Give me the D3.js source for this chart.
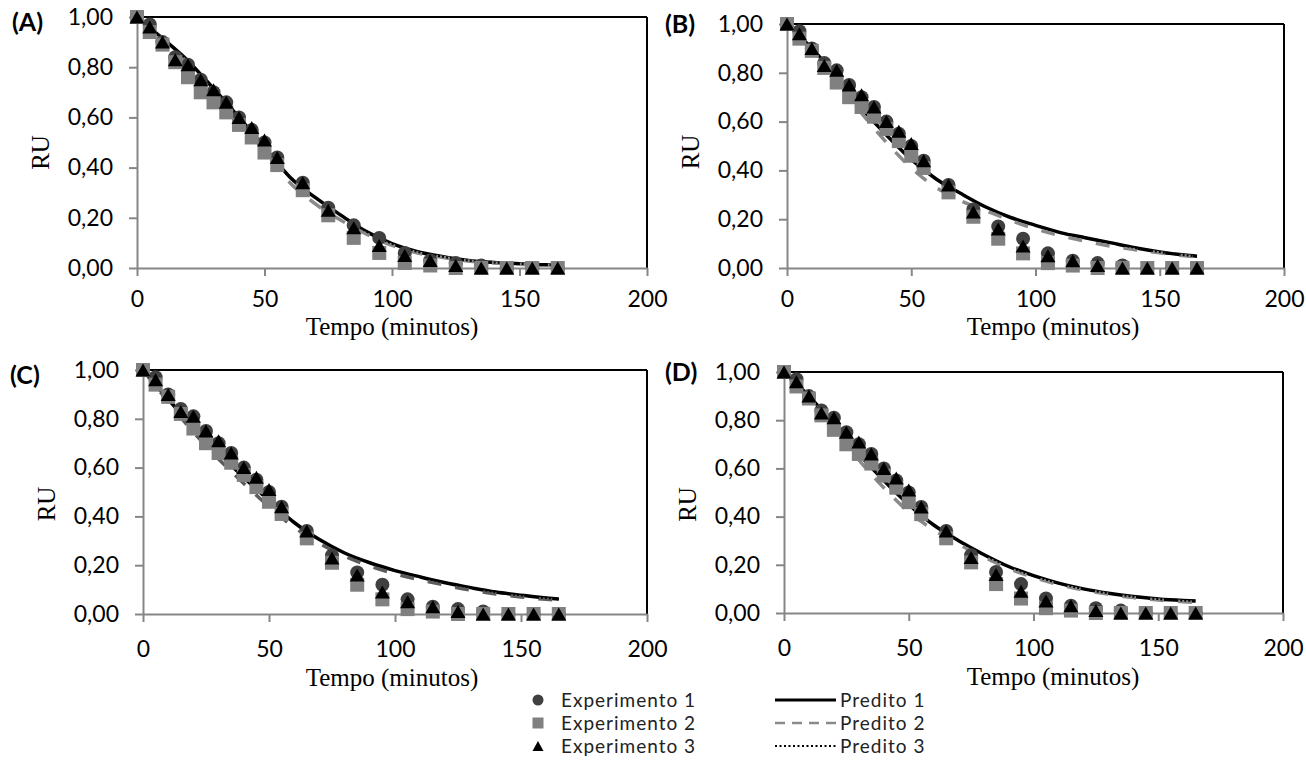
<!DOCTYPE html>
<html>
<head>
<meta charset="utf-8">
<script src="https://cdn.jsdelivr.net/npm/d3@7"></script>
<style>
  html, body { margin: 0; padding: 0; background: #fff; }
  svg { display: block; }
</style>
</head>
<body>
<svg id="chart" width="1306" height="766"></svg>
<script>
// Drying time points (minutes) for the three experiments
const times = [0, 5, 10, 15, 20, 25, 30, 35, 40, 45, 50, 55, 65, 75, 85, 95, 105, 115, 125, 135, 145, 155, 165];

// Moisture ratio (RU) measured in each experiment
const experimento1 = [1.00, 0.97, 0.90, 0.84, 0.81, 0.75, 0.70, 0.66, 0.60, 0.55, 0.50, 0.44, 0.34, 0.24, 0.17, 0.12, 0.06, 0.03, 0.02, 0.01, 0.00, 0.00, 0.00];
const experimento2 = [1.00, 0.94, 0.89, 0.82, 0.76, 0.70, 0.66, 0.62, 0.57, 0.52, 0.46, 0.41, 0.31, 0.21, 0.12, 0.06, 0.02, 0.01, 0.00, 0.00, 0.00, 0.00, 0.00];
const experimento3 = [1.00, 0.96, 0.90, 0.83, 0.81, 0.75, 0.71, 0.66, 0.60, 0.56, 0.51, 0.44, 0.34, 0.23, 0.16, 0.09, 0.05, 0.03, 0.01, 0.00, 0.00, 0.00, 0.00];

// Times at which the fitted models are evaluated
const predTimes = [0, 10, 20, 30, 40, 50, 60, 70, 80, 90, 100, 110, 120, 130, 140, 150, 160, 165];

// Model (A)
const predA1 = [1.00, 0.915, 0.825, 0.715, 0.60, 0.48, 0.362, 0.28, 0.21, 0.145, 0.097, 0.065, 0.045, 0.030, 0.022, 0.017, 0.013, 0.012];
const predA2 = [1.00, 0.91, 0.815, 0.705, 0.59, 0.465, 0.34, 0.255, 0.19, 0.135, 0.090, 0.060, 0.042, 0.028, 0.020, 0.015, 0.011, 0.010];
const predA3 = [1.00, 0.915, 0.825, 0.715, 0.60, 0.48, 0.362, 0.28, 0.21, 0.145, 0.097, 0.065, 0.045, 0.030, 0.022, 0.017, 0.013, 0.012];
// Model (B)
const predB1 = [1.00, 0.90, 0.785, 0.655, 0.545, 0.445, 0.365, 0.305, 0.25, 0.207, 0.175, 0.145, 0.124, 0.104, 0.083, 0.066, 0.053, 0.048];
const predB2 = [1.00, 0.895, 0.77, 0.635, 0.515, 0.41, 0.33, 0.275, 0.235, 0.195, 0.16, 0.133, 0.11, 0.09, 0.075, 0.062, 0.05, 0.045];
const predB3 = [1.00, 0.90, 0.785, 0.655, 0.545, 0.445, 0.365, 0.305, 0.25, 0.207, 0.175, 0.145, 0.124, 0.104, 0.083, 0.066, 0.053, 0.048];
// Model (C)
const predC1 = [1.00, 0.88, 0.765, 0.66, 0.56, 0.465, 0.375, 0.305, 0.25, 0.21, 0.178, 0.152, 0.128, 0.108, 0.09, 0.077, 0.066, 0.061];
const predC2 = [1.00, 0.87, 0.745, 0.635, 0.535, 0.44, 0.355, 0.29, 0.237, 0.197, 0.165, 0.14, 0.118, 0.098, 0.082, 0.07, 0.06, 0.056];
const predC3 = [1.00, 0.88, 0.765, 0.66, 0.56, 0.465, 0.375, 0.305, 0.25, 0.21, 0.178, 0.152, 0.128, 0.108, 0.09, 0.077, 0.066, 0.061];
// Model (D)
const predD1 = [1.00, 0.90, 0.785, 0.66, 0.55, 0.45, 0.365, 0.30, 0.243, 0.193, 0.155, 0.124, 0.10, 0.082, 0.068, 0.058, 0.052, 0.05];
const predD2 = [1.00, 0.895, 0.77, 0.635, 0.52, 0.42, 0.345, 0.285, 0.233, 0.185, 0.148, 0.118, 0.095, 0.078, 0.064, 0.054, 0.047, 0.044];
const predD3 = [1.00, 0.90, 0.785, 0.66, 0.55, 0.45, 0.365, 0.30, 0.243, 0.193, 0.155, 0.124, 0.10, 0.082, 0.068, 0.058, 0.052, 0.05];

// Axis ticks and text
const xTicks = [0, 50, 100, 150, 200];
const yTicks = [0, 0.2, 0.4, 0.6, 0.8, 1.0];
const panelLabels = ["(A)", "(B)", "(C)", "(D)"];
const xTitle = "Tempo (minutos)";
const yTitle = "RU";
const expNames = ["Experimento 1", "Experimento 2", "Experimento 3"];
const predNames = ["Predito 1", "Predito 2", "Predito 3"];

// Panel geometry (plot area in pixels)
const panels = [
  { label: panelLabels[0], pred: [predA1, predA2, predA3], left: 137, top: 17,  right: 647,  bottom: 268, labelX: 12,  labelY: 22,  titleX: 392,  titleDy: 67, tickPad: 15, ruDy: 10, dashColor: "#8a8a8a" },
  { label: panelLabels[1], pred: [predB1, predB2, predB3], left: 787, top: 24,  right: 1284, bottom: 268, labelX: 665, labelY: 24,  titleX: 1053, titleDy: 67, tickPad: 15, ruDy: 6,  dashColor: "#8a8a8a" },
  { label: panelLabels[2], pred: [predC1, predC2, predC3], left: 143, top: 370, right: 647,  bottom: 614, labelX: 10,  labelY: 375, titleX: 392,  titleDy: 72, tickPad: 19, ruDy: 12, dashColor: "#5c5c5c" },
  { label: panelLabels[3], pred: [predD1, predD2, predD3], left: 784, top: 372, right: 1283, bottom: 613, labelX: 665, labelY: 372, titleX: 1053, titleDy: 72, tickPad: 19, ruDy: 12, dashColor: "#8a8a8a" }
];

const tickFont = "Lato, 'Open Sans', sans-serif";
const serifFont = "'Liberation Serif', 'DejaVu Serif', serif";
const axisGray = "#868686";
const expColors = ["#404040", "#808080", "#000000"];

const svg = d3.select("#chart");
const fmt = d => d.toFixed(2).replace(".", ",");

// Upward triangle centred on (0,0)
function trianglePath(w, h) {
  return `M0,${-h / 2}L${w / 2},${h / 2}L${-w / 2},${h / 2}Z`;
}

panels.forEach(p => {
  const x = d3.scaleLinear().domain([0, 200]).range([p.left, p.right]);
  const y = d3.scaleLinear().domain([0, 1]).range([p.bottom, p.top]);
  const g = svg.append("g");

  // Plot frame: black top and right edges
  g.append("line").attr("x1", x(0)).attr("x2", x(200)).attr("y1", y(1)).attr("y2", y(1))
    .attr("stroke", "#000").attr("stroke-width", 2);
  g.append("line").attr("x1", x(200)).attr("x2", x(200)).attr("y1", y(1)).attr("y2", y(0))
    .attr("stroke", "#000").attr("stroke-width", 2);

  // Axes
  const ay = g.append("g").attr("transform", `translate(${x(0)},0)`)
    .call(d3.axisLeft(y).tickValues(yTicks).tickFormat(fmt).tickSize(8).tickSizeOuter(0).tickPadding(16));
  const ax = g.append("g").attr("transform", `translate(0,${y(0)})`)
    .call(d3.axisBottom(x).tickValues(xTicks).tickFormat(d3.format("d")).tickSize(8).tickSizeOuter(0).tickPadding(p.tickPad));
  [ax, ay].forEach(a => {
    a.select(".domain").attr("stroke", axisGray).attr("stroke-width", 2);
    a.selectAll(".tick line").attr("stroke", axisGray).attr("stroke-width", 2);
    a.selectAll(".tick text").attr("font-family", tickFont).attr("font-size", 23).attr("fill", "#000");
  });

  // Fitted model curves
  const line = d3.line().x((d, i) => x(predTimes[i])).y(d => y(d)).curve(d3.curveMonotoneX);
  g.append("path").datum(p.pred[0]).attr("d", line)
    .attr("fill", "none").attr("stroke", "#000").attr("stroke-width", 3.5);
  g.append("path").datum(p.pred[1]).attr("d", line)
    .attr("fill", "none").attr("stroke", p.dashColor).attr("stroke-width", 3.5).attr("stroke-dasharray", "14,14");
  g.append("path").datum(p.pred[2]).attr("d", line)
    .attr("fill", "none").attr("stroke", "#000").attr("stroke-width", 2.2).attr("stroke-dasharray", "2,2");

  // Experimental points
  g.append("g").selectAll("circle").data(experimento1).join("circle")
    .attr("cx", (d, i) => x(times[i])).attr("cy", d => y(d)).attr("r", 7).attr("fill", expColors[0]);
  g.append("g").selectAll("rect").data(experimento2).join("rect")
    .attr("x", (d, i) => x(times[i]) - 7).attr("y", d => y(d) - 7).attr("width", 14).attr("height", 14)
    .attr("fill", expColors[1]);
  g.append("g").selectAll("path").data(experimento3).join("path")
    .attr("transform", (d, i) => `translate(${x(times[i])},${y(d)})`)
    .attr("d", trianglePath(15, 13)).attr("fill", expColors[2]);

  // Titles and panel letter
  g.append("text").attr("x", p.titleX).attr("y", p.bottom + p.titleDy)
    .attr("text-anchor", "middle").attr("font-family", serifFont).attr("font-size", 25).text(xTitle);
  g.append("text")
    .attr("transform", `translate(${p.left - 96},${(p.top + p.bottom) / 2 + p.ruDy}) rotate(-90)`)
    .attr("text-anchor", "middle").attr("dy", "0.33em")
    .attr("font-family", serifFont).attr("font-size", 25).text(yTitle);
  g.append("text").attr("x", p.labelX).attr("y", p.labelY).attr("dy", "0.36em")
    .attr("font-family", tickFont).attr("font-weight", 700).attr("font-size", 25).text(p.label);
});

// Legend
const legend = svg.append("g");
const rowY = [700, 723, 746];
legend.append("circle").attr("cx", 538).attr("cy", rowY[0]).attr("r", 5.5).attr("fill", expColors[0]);
legend.append("rect").attr("x", 532.5).attr("y", rowY[1] - 5.5).attr("width", 11).attr("height", 11).attr("fill", expColors[1]);
legend.append("path").attr("transform", `translate(538,${rowY[2]})`).attr("d", trianglePath(11, 10)).attr("fill", expColors[2]);
expNames.forEach((t, i) => {
  legend.append("text").attr("x", 561).attr("y", rowY[i]).attr("dy", "0.36em")
    .attr("font-family", tickFont).attr("font-size", 19).attr("letter-spacing", 1).attr("fill", "#222").text(t);
});
const legendLines = [
  { stroke: "#000", width: 3, dash: null },
  { stroke: "#8a8a8a", width: 2.5, dash: "10,7" },
  { stroke: "#000", width: 2, dash: "2,2.5" }
];
legendLines.forEach((s, i) => {
  const l = legend.append("line").attr("x1", 775).attr("x2", 836).attr("y1", rowY[i]).attr("y2", rowY[i])
    .attr("stroke", s.stroke).attr("stroke-width", s.width);
  if (s.dash) l.attr("stroke-dasharray", s.dash);
});
predNames.forEach((t, i) => {
  legend.append("text").attr("x", 840).attr("y", rowY[i]).attr("dy", "0.36em")
    .attr("font-family", tickFont).attr("font-size", 19).attr("letter-spacing", 1).attr("fill", "#222").text(t);
});
</script>
</body>
</html>
